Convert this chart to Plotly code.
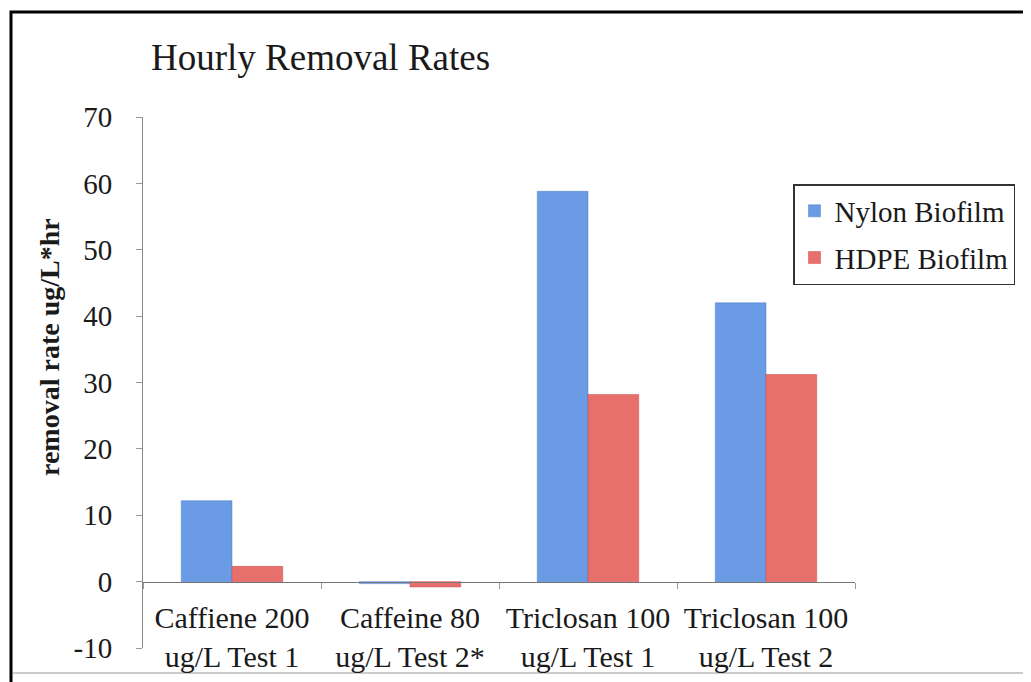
import plotly.graph_objects as go

categories = ["Caffiene 200<br>ug/L Test 1", "Caffeine 80<br>ug/L Test 2*",
              "Triclosan 100<br>ug/L Test 1", "Triclosan 100<br>ug/L Test 2"]
nylon = [12.2, -0.3, 58.8, 42.0]
hdpe = [2.3, -0.8, 28.2, 31.2]
series_names = ["Nylon Biofilm", "HDPE Biofilm"]
y_ticks = [-10, 0, 10, 20, 30, 40, 50, 60, 70]
y_ticktext = ["-10", "0", "10", "20", "30", "40", "50", "60", "70"]

FONT = "Liberation Serif"
OFF = 8  # default page body margin
W, H = 1031 - OFF, 682 - OFF
L, T = 143 - OFF, 117 - OFF
R = W - (855 - OFF)
B = H - (648 - OFF)
pw, ph = W - L - R, H - T - B

def px_x(x):  # screen x -> paper
    return (x - OFF - L) / pw

def px_y(y):  # screen y -> paper
    return (H - B - (y - OFF)) / ph

fig = go.Figure()
fig.add_trace(go.Bar(x=categories, y=nylon, name=series_names[0], legendgroup="a",
                     marker=dict(color="#6a9be4", line=dict(color="#4a7fcf", width=0.5))))
fig.add_trace(go.Bar(x=categories, y=hdpe, name=series_names[1], legendgroup="b",
                     marker=dict(color="#e76f6c", line=dict(color="#d04a46", width=0.5))))

fig.update_layout(
    width=W, height=H,
    margin=dict(l=L, r=R, t=T, b=B, autoexpand=False),
    paper_bgcolor="white", plot_bgcolor="white",
    font=dict(family=FONT, size=28, color="#1a1a1a"),
    barmode="group", bargap=0.43, bargroupgap=0,
    showlegend=True,
    legend=dict(x=px_x(793), y=px_y(184), xanchor="left", yanchor="top",
                bordercolor="#333333", borderwidth=1.5, bgcolor="white",
                font=dict(family=FONT, size=29, color="#1a1a1a"),
                tracegroupgap=6, itemwidth=30),
    xaxis=dict(anchor="free", position=10 / 80, showline=True, linecolor="#777777",
               linewidth=1, ticks="outside", tickson="boundaries", ticklen=6,
               tickcolor="#999999", showgrid=False, zeroline=False, automargin=False,
               tickfont=dict(family=FONT, size=30, color="#1a1a1a"),
               ticklabelstandoff=9),
    yaxis=dict(range=[-10, 70], tickvals=y_ticks, ticktext=y_ticktext,
               showline=True, linecolor="#888888", automargin=False,
               linewidth=1, ticks="outside", ticklen=6, tickcolor="#999999",
               showgrid=False, zeroline=False,
               tickfont=dict(family=FONT, size=29, color="#1a1a1a"),
               ticklabelstandoff=18),
    annotations=[
        dict(text="Hourly Removal Rates", xref="paper", yref="paper",
             x=px_x(149), y=px_y(58), xanchor="left", yanchor="middle",
             showarrow=False, font=dict(family=FONT, size=37, color="#1a1a1a")),
        dict(text="<b>removal rate ug/L*hr</b>", xref="paper", yref="paper",
             x=px_x(49), y=px_y(347), xanchor="center", yanchor="middle",
             textangle=-90, showarrow=False,
             font=dict(family=FONT, size=28, color="#1a1a1a")),
    ],
    shapes=[
        dict(type="rect", xref="paper", yref="paper",
             x0=px_x(11), x1=px_x(1060), y0=px_y(700), y1=px_y(12),
             line=dict(color="black", width=3), fillcolor="rgba(0,0,0,0)",
             layer="below"),
        dict(type="line", xref="paper", yref="paper",
             x0=px_x(13), x1=px_x(1040), y0=px_y(673), y1=px_y(673),
             line=dict(color="#cccccc", width=2), layer="below"),
    ],
)

fig.write_html("out.html")
